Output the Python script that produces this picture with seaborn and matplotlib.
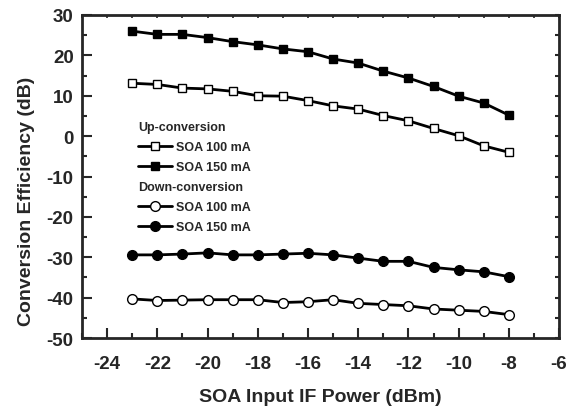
import numpy as np
import matplotlib
matplotlib.use('Agg')
import matplotlib.pyplot as plt
import matplotlib.lines as mlines
import pandas as pd
import seaborn as sns

# SOA input IF power (dBm)
power = [-23, -22, -21, -20, -19, -18, -17, -16, -15, -14, -13, -12, -11, -10, -9, -8]

# conversion efficiency (dB)
up_100 = [13.1, 12.8, 11.9, 11.7, 11.1, 10.0, 9.9, 8.8, 7.5, 6.7, 5.1, 3.8, 1.9, 0.1, -2.4, -4.0]
up_150 = [26.0, 25.2, 25.2, 24.4, 23.4, 22.6, 21.6, 20.9, 19.1, 18.1, 16.1, 14.4, 12.3, 9.9, 8.2, 5.2]
down_100 = [-40.3, -40.7, -40.6, -40.5, -40.5, -40.5, -41.2, -41.0, -40.5, -41.4, -41.7, -42.0, -42.8, -43.1, -43.4, -44.2]
down_150 = [-29.4, -29.4, -29.2, -28.9, -29.4, -29.4, -29.2, -29.0, -29.4, -30.2, -31.0, -31.0, -32.5, -33.1, -33.6, -34.8]

xticks = [-24, -22, -20, -18, -16, -14, -12, -10, -8, -6]
yticks = [-50, -40, -30, -20, -10, 0, 10, 20, 30]

sns.set_style('ticks')
plt.rcParams['font.family'] = ['Liberation Sans', 'DejaVu Sans']
plt.rcParams['font.weight'] = 'bold'

fig = plt.figure(figsize=(5.67, 4.10), dpi=100)
ax = fig.add_axes([0.1446, 0.173, 0.8414, 0.788])

series = [
    (up_100, 's', 'white'),
    (up_150, 's', 'black'),
    (down_100, 'o', 'white'),
    (down_150, 'o', 'black'),
]
for vals, mk, fc in series:
    df = pd.DataFrame({'x': power, 'y': vals})
    sns.lineplot(data=df, x='x', y='y', ax=ax, color='black', lw=2.0,
                 marker=mk, markersize=6.2 if mk == 's' else 7,
                 markerfacecolor=fc, markeredgecolor='black',
                 markeredgewidth=1.0)

ax.set_xlim(-25, -6)
ax.set_ylim(-50, 30)
ax.set_xticks(xticks)
ax.set_xticks(np.arange(-25, -5, 1), minor=True)
ax.set_yticks(yticks)
ax.set_yticks(np.arange(-50, 31, 5), minor=True)
ax.set_xticklabels([str(t) for t in xticks], fontsize=13.5, fontweight='bold')
ax.set_yticklabels([str(t) for t in yticks], fontsize=13.5, fontweight='bold')
ax.tick_params(which='major', direction='in', length=7, width=1.5)
ax.tick_params(which='minor', direction='in', length=3.8, width=1.5)
ax.tick_params(axis='x', which='major', pad=12)
ax.tick_params(axis='y', which='major', pad=6)
for sp in ax.spines.values():
    sp.set_linewidth(2.0)

# short ticks on top and right edges
top = ax.secondary_xaxis('top')
top.set_xticks(np.arange(-25, -5, 1))
top.tick_params(direction='in', length=2, width=1.2, labeltop=False)
right = ax.secondary_yaxis('right')
right.set_yticks(np.arange(-50, 31, 5))
right.tick_params(direction='in', length=3, width=1.5, labelright=False)

ax.set_xlabel('SOA Input IF Power (dBm)', fontsize=14, fontweight='bold')
ax.set_ylabel('Conversion Efficiency (dB)', fontsize=14, fontweight='bold')
ax.xaxis.set_label_coords(0.5, -0.18)
ax.yaxis.set_label_coords(-0.117, 0.427)
ax.xaxis.label.set_va('center')
ax.yaxis.label.set_va('center')

# legend with two group titles
blank = mlines.Line2D([], [], linestyle='none')
def handle(mk, fc):
    return mlines.Line2D([], [], color='black', lw=2.0, marker=mk,
                         markersize=6.2 if mk == 's' else 7,
                         markerfacecolor=fc, markeredgecolor='black')
handles = [blank, handle('s', 'white'), handle('s', 'black'),
           blank, handle('o', 'white'), handle('o', 'black')]
labels = ['Up-conversion', 'SOA 100 mA', 'SOA 150 mA',
          'Down-conversion', 'SOA 100 mA', 'SOA 150 mA']
fs = 9
hl, htp = 2.7, 0.35
leg = ax.legend(handles, labels, loc='upper left', bbox_to_anchor=(0.117, 0.672),
                frameon=False, handlelength=hl, handletextpad=htp,
                borderpad=0, borderaxespad=0, labelspacing=0.64,
                prop={'weight': 'bold', 'size': fs})
shift = (hl + htp) * fs * fig.dpi / 72.0
for i, t in enumerate(leg.get_texts()):
    if i in (0, 3):
        t.set_position((-shift, 0))

fig.savefig('out.png', dpi=100)
